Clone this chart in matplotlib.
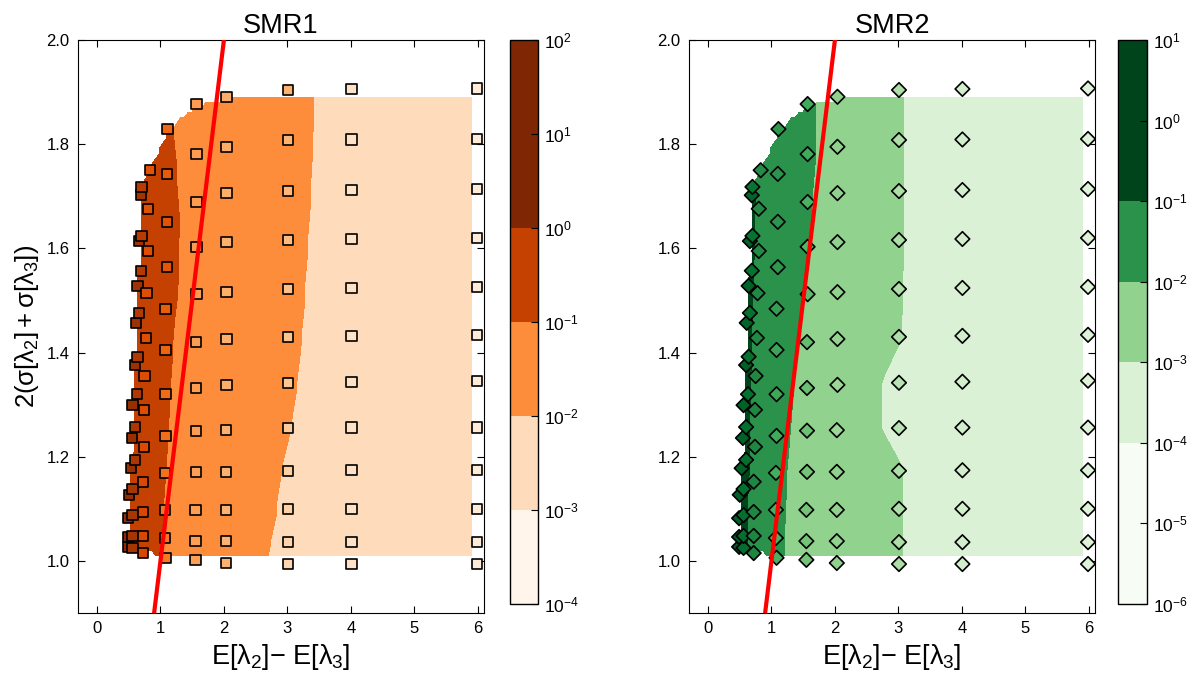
import numpy as np
import matplotlib
matplotlib.use("Agg")
import matplotlib.pyplot as plt
import matplotlib.tri as mtri
from matplotlib.colors import ListedColormap, LogNorm, PowerNorm, Normalize

plt.rcParams['font.family'] = ['Liberation Sans', 'DejaVu Sans']
plt.rcParams['mathtext.fontset'] = 'custom'
plt.rcParams['mathtext.rm'] = 'Liberation Sans'
plt.rcParams['mathtext.it'] = 'Liberation Sans'
plt.rcParams['mathtext.bf'] = 'Liberation Sans:bold'
plt.rcParams['mathtext.sf'] = 'Liberation Sans'

# sample positions of the scan, one list per column, bottom row first
col_a_x = [0.49, 0.49, 0.49, 0.50, 0.53, 0.55, 0.56, 0.60, 0.61, 0.64, 0.66, 0.69]
col_a_y = [1.027, 1.046, 1.082, 1.127, 1.178, 1.236, 1.299, 1.376, 1.457, 1.528, 1.614, 1.702]
col_b_x = [0.56, 0.56, 0.56, 0.56, 0.60, 0.60, 0.63, 0.64, 0.66, 0.69, 0.70, 0.70]
col_b_y = [1.025, 1.048, 1.088, 1.138, 1.194, 1.257, 1.320, 1.392, 1.476, 1.557, 1.624, 1.718]
col_c_x = [0.72, 0.72, 0.72, 0.72, 0.74, 0.74, 0.75, 0.77, 0.78, 0.80, 0.80, 0.83]
col_c_y = [1.015, 1.048, 1.094, 1.152, 1.219, 1.290, 1.355, 1.428, 1.514, 1.595, 1.676, 1.750]
col_d_x = [1.08, 1.07, 1.07, 1.07, 1.08, 1.08, 1.08, 1.08, 1.10, 1.10, 1.10, 1.11]
col_d_y = [1.006, 1.044, 1.098, 1.169, 1.240, 1.320, 1.405, 1.484, 1.564, 1.651, 1.743, 1.829]
col_e_x = [1.55, 1.55, 1.55, 1.56, 1.56, 1.56, 1.56, 1.57, 1.57, 1.57, 1.57, 1.57]
col_e_y = [1.002, 1.038, 1.098, 1.171, 1.250, 1.332, 1.420, 1.512, 1.603, 1.689, 1.781, 1.877]
col_f_x = [2.03, 2.03, 2.03, 2.03, 2.03, 2.04, 2.04, 2.04, 2.04, 2.04, 2.04, 2.04]
col_f_y = [0.996, 1.038, 1.098, 1.171, 1.251, 1.338, 1.426, 1.516, 1.612, 1.706, 1.795, 1.891]
col_g_x = [3.01, 3.01, 3.01, 3.01, 3.01, 3.01, 3.01, 3.01, 3.01, 3.01, 3.01, 3.01]
col_g_y = [0.994, 1.036, 1.100, 1.173, 1.255, 1.342, 1.430, 1.522, 1.616, 1.710, 1.808, 1.904]
col_h_x = [4.01, 4.01, 4.01, 4.01, 4.01, 4.01, 4.01, 4.01, 4.01, 4.01, 4.01, 4.01]
col_h_y = [0.994, 1.036, 1.100, 1.174, 1.256, 1.344, 1.432, 1.524, 1.618, 1.712, 1.809, 1.906]
col_i_x = [5.99, 5.99, 5.99, 5.99, 5.99, 5.99, 5.99, 5.99, 5.99, 5.99, 5.99, 5.99]
col_i_y = [0.994, 1.036, 1.100, 1.174, 1.256, 1.346, 1.434, 1.526, 1.620, 1.714, 1.810, 1.907]

# log10 of the measured quantity at each sample, SMR1
smr1_a = [-0.20, -0.20, -0.22, -0.22, -0.25, -0.25, -0.25, -0.28, -0.28, -0.30, -0.30, -0.32]
smr1_b = [-0.35, -0.35, -0.36, -0.36, -0.38, -0.38, -0.40, -0.40, -0.42, -0.42, -0.45, -0.45]
smr1_c = [-0.62, -0.62, -0.63, -0.64, -0.65, -0.66, -0.66, -0.67, -0.68, -0.68, -0.70, -0.72]
smr1_d = [-1.06, -1.05, -1.03, -0.99, -0.96, -0.93, -0.88, -0.82, -0.75, -0.72, -0.80, -0.90]
smr1_e = [-1.45, -1.45, -1.44, -1.44, -1.43, -1.42, -1.42, -1.41, -1.40, -1.40, -1.40, -1.42]
smr1_f = [-1.65, -1.65, -1.65, -1.64, -1.64, -1.63, -1.63, -1.62, -1.62, -1.61, -1.60, -1.60]
smr1_g = [-2.20, -2.14, -2.08, -2.04, -1.98, -1.92, -1.87, -1.82, -1.77, -1.72, -1.68, -1.66]
smr1_h = [-2.50, -2.50, -2.50, -2.50, -2.50, -2.50, -2.50, -2.52, -2.52, -2.52, -2.50, -2.50]
smr1_i = [-2.90, -2.90, -2.90, -2.90, -2.90, -2.90, -2.90, -2.90, -2.90, -2.90, -2.90, -2.90]

# SMR2
smr2_a = [-0.62, -0.62, -0.64, -0.64, -0.65, -0.66, -0.66, -0.67, -0.68, -0.68, -0.70, -0.72]
smr2_b = [-0.84, -0.84, -0.85, -0.85, -0.86, -0.86, -0.87, -0.87, -0.88, -0.89, -0.90, -0.92]
smr2_c = [-1.22, -1.22, -1.23, -1.23, -1.24, -1.25, -1.26, -1.27, -1.28, -1.29, -1.30, -1.32]
smr2_d = [-1.90, -1.88, -1.86, -1.84, -1.80, -1.75, -1.70, -1.60, -1.50, -1.45, -1.45, -1.50]
smr2_e = [-2.30, -2.30, -2.30, -2.30, -2.25, -2.20, -2.15, -2.10, -2.00, -1.90, -1.80, -1.80]
smr2_f = [-2.60, -2.60, -2.60, -2.60, -2.75, -2.75, -2.65, -2.60, -2.60, -2.60, -2.60, -2.60]
smr2_g = [-2.97, -2.97, -2.97, -2.97, -3.10, -3.10, -2.98, -2.97, -2.96, -2.96, -2.96, -2.96]
smr2_h = [-3.50, -3.50, -3.50, -3.50, -3.50, -3.50, -3.50, -3.50, -3.50, -3.50, -3.50, -3.50]
smr2_i = [-3.70, -3.70, -3.70, -3.70, -3.70, -3.70, -3.70, -3.70, -3.70, -3.70, -3.70, -3.70]

smr1_levels = [1e-4, 1e-3, 1e-2, 1e-1, 1e0, 1e2]
smr2_levels = [1e-6, 1e-4, 1e-3, 1e-2, 1e-1, 1e1]

# y = x reference line
line_x = [0.9, 2.0]
line_y = [0.9, 2.0]

xs = np.array(col_a_x + col_b_x + col_c_x + col_d_x + col_e_x + col_f_x
              + col_g_x + col_h_x + col_i_x)
ys = np.array(col_a_y + col_b_y + col_c_y + col_d_y + col_e_y + col_f_y
              + col_g_y + col_h_y + col_i_y)
z1 = np.array(smr1_a + smr1_b + smr1_c + smr1_d + smr1_e + smr1_f
              + smr1_g + smr1_h + smr1_i)
z2 = np.array(smr2_a + smr2_b + smr2_c + smr2_d + smr2_e + smr2_f
              + smr2_g + smr2_h + smr2_i)


def band_cmap(levels, colors, n=600):
    """colormap that is constant over each log band between levels"""
    lv = np.log10(levels)
    t = np.linspace(lv[0], lv[-1], n)
    idx = np.clip(np.searchsorted(lv, t, side='right') - 1, 0, len(colors) - 1)
    return ListedColormap([colors[i] for i in idx])


def panel(fig, ax_rect, cb_rect, z, levels, base, band_pos, mnorm, marker, title):
    ax = fig.add_axes(ax_rect)
    tri = mtri.Triangulation(xs, ys)
    gx, gy = np.meshgrid(np.linspace(0.3, 5.9, 100), np.linspace(1.01, 1.89, 90))
    gz = mtri.LinearTriInterpolator(tri, z)(gx, gy)
    cmap = band_cmap(levels, [base(p) for p in band_pos])
    cs = ax.contourf(gx, gy, np.ma.power(10.0, gz), levels=levels, cmap=cmap,
                     norm=LogNorm(vmin=levels[0], vmax=levels[-1]))
    ax.scatter(xs, ys, c=z, cmap=base, norm=mnorm, marker=marker, s=55,
               edgecolors='black', linewidths=1.2, zorder=3)
    ax.plot(line_x, line_y, color='red', lw=3, zorder=4)
    ax.set_xlim(-0.3, 6.1)
    ax.set_ylim(0.9, 2.0)
    ax.set_xticks([0, 1, 2, 3, 4, 5, 6])
    ax.set_yticks([1.0, 1.2, 1.4, 1.6, 1.8, 2.0])
    ax.tick_params(direction='in', top=True, right=True, length=5, width=0.8,
                   labelsize=12, pad=6)
    ax.set_xlabel(r'$E[\lambda_2]{-}\ E[\lambda_3]$', fontsize=19.5)
    ax.set_title(title, fontsize=19.5, pad=5)

    cax = fig.add_axes(cb_rect)
    cb = fig.colorbar(cs, cax=cax, spacing='proportional')
    lo, hi = np.log10(levels[0]), np.log10(levels[-1])
    cb.set_ticks(10.0 ** np.arange(lo, hi + 1))
    cb.ax.minorticks_off()
    cb.ax.tick_params(direction='in', length=5, width=0.8, labelsize=12.5, pad=4)
    cb.outline.set_linewidth(1.0)
    return ax


W, H = 1202, 677
fig = plt.figure(figsize=(W / 100, H / 100), dpi=100)


def rect(x0, y0, w, h):
    return [x0 / W, 1 - (y0 + h) / H, w / W, h / H]


ax1 = panel(fig, rect(78, 40, 406, 573), rect(510, 40, 28, 564), z1, smr1_levels,
            plt.cm.Oranges, [0.0, 0.18, 0.5, 0.8, 1.0],
            PowerNorm(gamma=2, vmin=-4.0, vmax=-0.1), 's', 'SMR1')
ax1.set_ylabel(r'$2(\sigma[\lambda_2] + \sigma[\lambda_3])$', fontsize=18.5)
ax2 = panel(fig, rect(689, 40, 406, 573), rect(1118, 40, 29, 564), z2, smr2_levels,
            plt.cm.Greens, [0.0, 0.17, 0.42, 0.72, 1.0],
            Normalize(vmin=-4.3, vmax=-0.3), 'D', 'SMR2')

fig.savefig('out.png', dpi=100)
